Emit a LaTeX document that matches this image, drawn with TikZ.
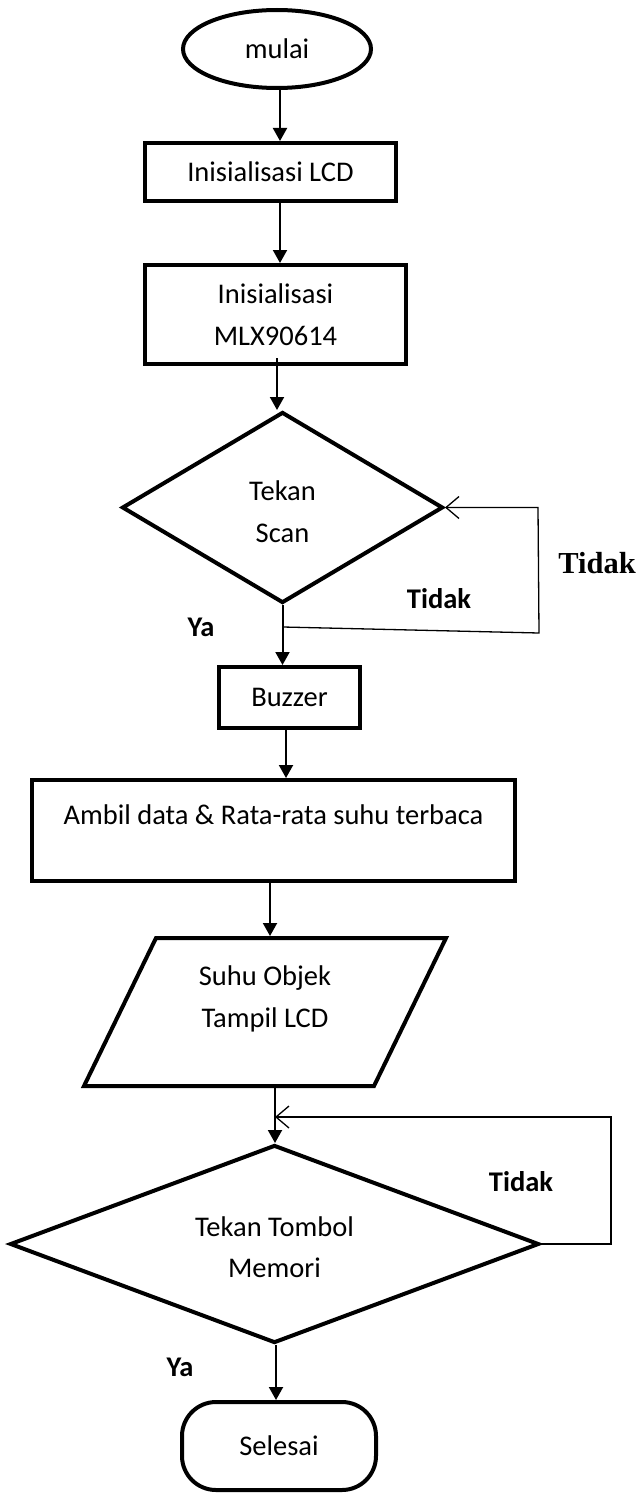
\documentclass[tikz,border=0pt]{standalone}
\usepackage{fontspec}
\setmainfont{Carlito}
\newfontfamily\serifb{Liberation Serif}
\usetikzlibrary{shapes.geometric,arrows.meta}
\begin{document}
\begin{tikzpicture}[x=1pt,y=-1pt,
  font=\fontsize{28.5}{41.5}\selectfont,
  box/.style={draw, line width=4pt, rectangle, inner sep=0pt, align=center},
  dia/.style={diamond, draw, line width=4pt, inner sep=0pt, align=center},
  arr/.style={line width=2pt, -{Triangle[length=13pt,width=14pt]}},
  loopl/.style={line width=1.3pt, -{Straight Barb[length=13pt,width=22pt,line width=1.3pt]}},
  txt/.style={align=center, inner sep=0pt},
  lbl/.style={font=\fontsize{28.5}{34}\selectfont\bfseries, inner sep=0pt}]
\fill[white] (0,0) rectangle (640,1493);
\useasboundingbox (0,0) rectangle (640,1493);

% nodes
\node[ellipse, draw, line width=4pt, minimum width=188pt, minimum height=78pt, inner sep=0pt] (mulai) at (277,49) {mulai};
\node[box, minimum width=251pt, minimum height=58pt] (lcd) at (270.5,172) {Inisialisasi LCD};
\node[box, minimum width=261pt, minimum height=99pt] (mlx) at (275.5,314.5) {Inisialisasi\\MLX90614};
\node[dia, minimum width=321pt, minimum height=191pt, aspect=1.68] (scan) at (282.5,507.5) {};
\node[txt] (scantext) at (282.5,511.5) {Tekan\\Scan};
\node[box, minimum width=141pt, minimum height=61pt] (buzzer) at (289.5,697.5) {Buzzer};
\node[box, minimum width=483pt, minimum height=101pt] (big) at (273.5,830.5) {};
\node[txt] (bigtext) at (273.5,815) {Ambil data \& Rata-rata suhu terbaca};
\node[minimum width=362pt, minimum height=148pt, inner sep=0pt, outer sep=0pt] (para) at (265,1012) {};
\draw[line width=4pt] ([xshift=72pt]para.north west) -- (para.north east)
  -- ([xshift=-72pt]para.south east) -- (para.south west) -- cycle;
\node[txt] (paratext) at (265,999) {Suhu Objek\\Tampil LCD};
\node[dia, minimum width=529pt, minimum height=198pt, aspect=2.67] (mem) at (274.5,1244) {};
\node[txt] (memtext) at (274.5,1247) {Tekan Tombol\\Memori};
\node[draw, line width=4pt, rectangle, rounded corners=34pt,
  minimum width=194pt, minimum height=88pt, inner sep=0pt] (selesai) at (279,1446) {Selesai};

% labels
\node[font=\serifb\fontsize{30.5}{36}\selectfont\bfseries, inner sep=0pt] (tidak0) at (597,563) {Tidak};
\node[lbl] (tidak1) at (439,599) {Tidak};
\node[lbl] (ya1) at (201,627) {Ya};
\node[lbl] (tidak2) at (521,1182) {Tidak};
\node[lbl] (ya2) at (180,1367) {Ya};

% main connectors
\draw[arr] ([xshift=3pt]mulai.south) -- ([xshift=3pt]mulai.south |- lcd.north);
\draw[arr] ([xshift=9.5pt]lcd.south) -- ([xshift=9.5pt]lcd.south |- mlx.north);
\draw[arr] ([xshift=1.5pt,yshift=8pt]mlx.south) -- ([xshift=1.5pt]mlx.south |- scan.north);
\draw[arr] (scan.south) -- (scan.south |- buzzer.north);
\draw[arr] ([xshift=-3.5pt]buzzer.south) -- ([xshift=-3.5pt]buzzer.south |- big.north);
\draw[arr] ([xshift=-3.5pt]big.south) -- ([xshift=-3.5pt,yshift=2pt]big.south |- para.north);
\draw[arr] ([xshift=10pt,yshift=-2pt]para.south) -- ([xshift=10pt]para.south |- mem.north);
\draw[arr] ([xshift=1.5pt]mem.south) -- ([xshift=1.5pt]mem.south |- selesai.north);

% loops
\coordinate (l1top) at (538,507.5);
\coordinate (l1bot) at (539,633);
\coordinate (l1join) at (283,627);
\draw[loopl] (l1join) -- (l1bot) -- (l1top) -- (scan.east);
\coordinate (l2r) at (611,1244);
\coordinate (l2t) at (611,1117);
\coordinate (l2join) at (275,1117);
\draw[loopl] (mem.east) -- (l2r) -- (l2t) -- (l2join);
\end{tikzpicture}
\end{document}
